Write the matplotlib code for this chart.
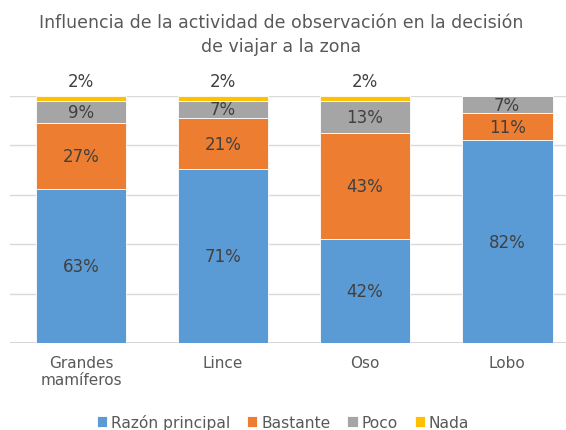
import matplotlib.pyplot as plt
import numpy as np

# data
categories = ["Grandes\nmamíferos", "Lince", "Oso", "Lobo"]
series_names = ["Razón principal", "Bastante", "Poco", "Nada"]
razon = [63, 71, 42, 82]
bastante = [27, 21, 43, 11]
poco = [9, 7, 13, 7]
nada = [2, 2, 2, 0]

colors = ["#5B9BD5", "#ED7D31", "#A5A5A5", "#FFC000"]
text_color = "#404040"

plt.rcParams["font.family"] = ["DejaVu Sans"]

fig = plt.figure(figsize=(5.66, 4.31), dpi=100)
ax = fig.add_axes((10 / 566, 87 / 431, 556 / 566, 247 / 431))

x = np.arange(len(categories))
series = [razon, bastante, poco, nada]
# 100% stacked: each bar normalised to its total
totals = np.sum(np.array(series, dtype=float), axis=0)
bottom = np.zeros(len(categories))
for vals, name, col in zip(series, series_names, colors):
    vals = np.array(vals, dtype=float)
    h = vals / totals * 100
    ax.bar(x, h, width=0.64, bottom=bottom, color=col, label=name,
           edgecolor="white", linewidth=0.6, zorder=3)
    for xi, v, hh, b in zip(x, vals, h, bottom):
        if v <= 0:
            continue
        if name == "Nada":
            ax.text(xi, 102.5, f"{int(v)}%", ha="center", va="bottom",
                    fontsize=12, color=text_color)
        else:
            ax.text(xi, b + hh / 2, f"{int(v)}%", ha="center", va="center",
                    fontsize=12, color=text_color)
    bottom += h

ax.set_ylim(0, 100)
ax.set_xlim(-0.5, 3.415)
ax.set_yticks(np.arange(0, 101, 20))
ax.yaxis.grid(True, color="#D9D9D9", linewidth=1, zorder=0)
ax.axhline(0, color="#D0D0D0", linewidth=1.2, zorder=2)
ax.tick_params(axis="y", left=False, labelleft=False)
ax.tick_params(axis="x", bottom=False, labelsize=11, pad=5)
ax.set_xticks(x)
ax.set_xticklabels(categories, color="#595959")
for s in ax.spines.values():
    s.set_visible(False)

fig.text(0.497, 0.968, "Influencia de la actividad de observación en la decisión\nde viajar a la zona",
         ha="center", va="top", fontsize=12.5, color="#595959", linespacing=1.45)

handles, labels = ax.get_legend_handles_labels()
fig.legend(handles, labels, loc="lower center", bbox_to_anchor=(0.5, -0.032), ncol=4,
           frameon=False, fontsize=11.2, handlelength=0.65, handleheight=0.65,
           handletextpad=0.25, columnspacing=1.1, labelcolor="#595959")

fig.savefig("out.png", dpi=100)
